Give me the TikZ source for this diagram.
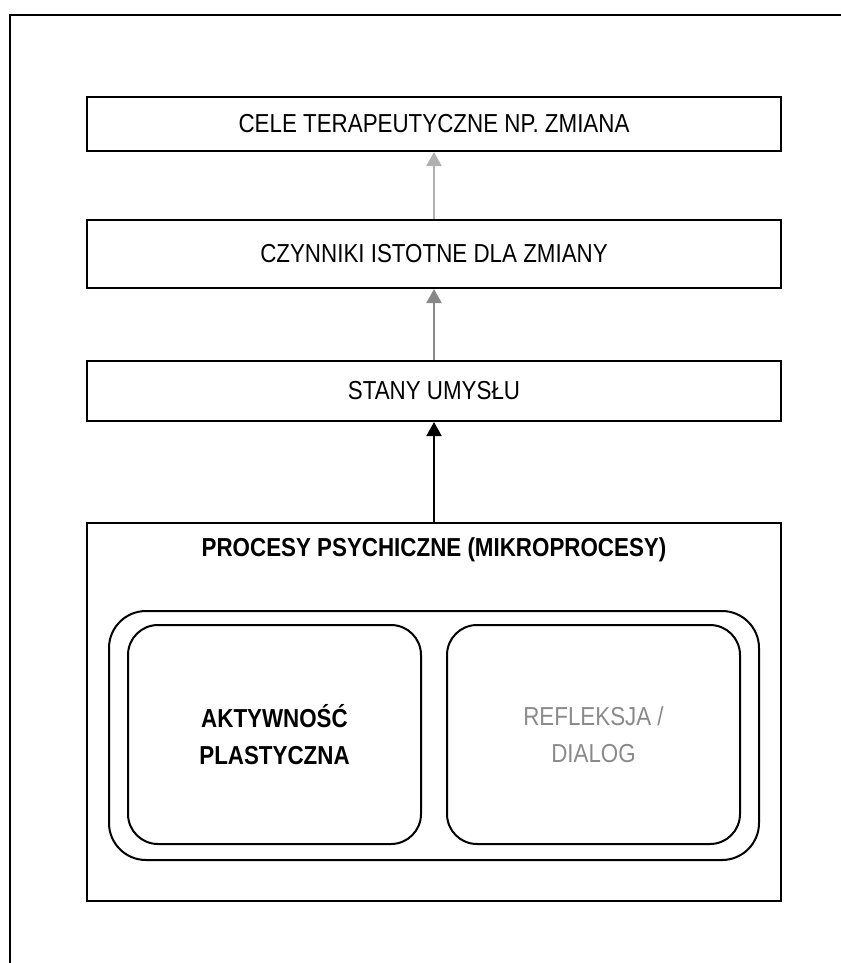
\documentclass[tikz,border=0pt]{standalone}
\usepackage{fontspec}
\setmainfont{Liberation Sans}[FakeStretch=0.86]
\usetikzlibrary{arrows.meta}
\definecolor{lightarrow}{HTML}{B0B0B0}
\definecolor{midarrow}{HTML}{888888}
\definecolor{softtext}{HTML}{8A8A8A}
\tikzstyle{level} = [rectangle, draw, line width=2pt, minimum width=694pt, text centered, font=\fontsize{26}{37}\selectfont]
\tikzstyle{group} = [rectangle, rounded corners=37pt, draw, line width=2pt, minimum width=650pt, minimum height=249pt]
\tikzstyle{process} = [rectangle, rounded corners=30pt, draw, line width=2pt, minimum width=293pt, minimum height=219pt, align=center, font=\fontsize{26}{37}\selectfont]
\tikzstyle{arrow} = [line width=2pt, -{Triangle[length=14pt,width=15pt]}]

\begin{document}
\begin{tikzpicture}[x=1pt, y=-1pt]
            \useasboundingbox (0,0) rectangle (840,963);
            \draw [line width=2pt] (10,975) -- (10,15) -- (855,15);

            \node [level, minimum height=54pt] at (434,124) (cele) {CELE TERAPEUTYCZNE NP. ZMIANA};
            \node [level, minimum height=68pt] at (434,254) (czynniki) {CZYNNIKI ISTOTNE DLA ZMIANY};
            \node [level, minimum height=60pt] at (434,391) (stany) {STANY UMYS\L U};
            \node [level, minimum height=378pt] at (434,712) (procesy) {};
            \node [font=\fontsize{26}{37}\selectfont\bfseries] at (434,550) (tytul) {PROCESY PSYCHICZNE (MIKROPROCESY)};
            \node [group] at (434,735.5) (mikro) {};
            \node [process, font=\fontsize{26}{37}\selectfont\bfseries] at (274.5,734.5) (aktywnosc) {AKTYWNOŚĆ\\PLASTYCZNA};
            \node [process, text=softtext] at (593.5,734.5) (refleksja) {REFLEKSJA /\\DIALOG};

            \draw [arrow, color=lightarrow] (czynniki) -- (cele);
            \draw [arrow, color=midarrow] (stany) -- (czynniki);
            \draw [arrow] (procesy) -- (stany);
            \end{tikzpicture}
\end{document}
